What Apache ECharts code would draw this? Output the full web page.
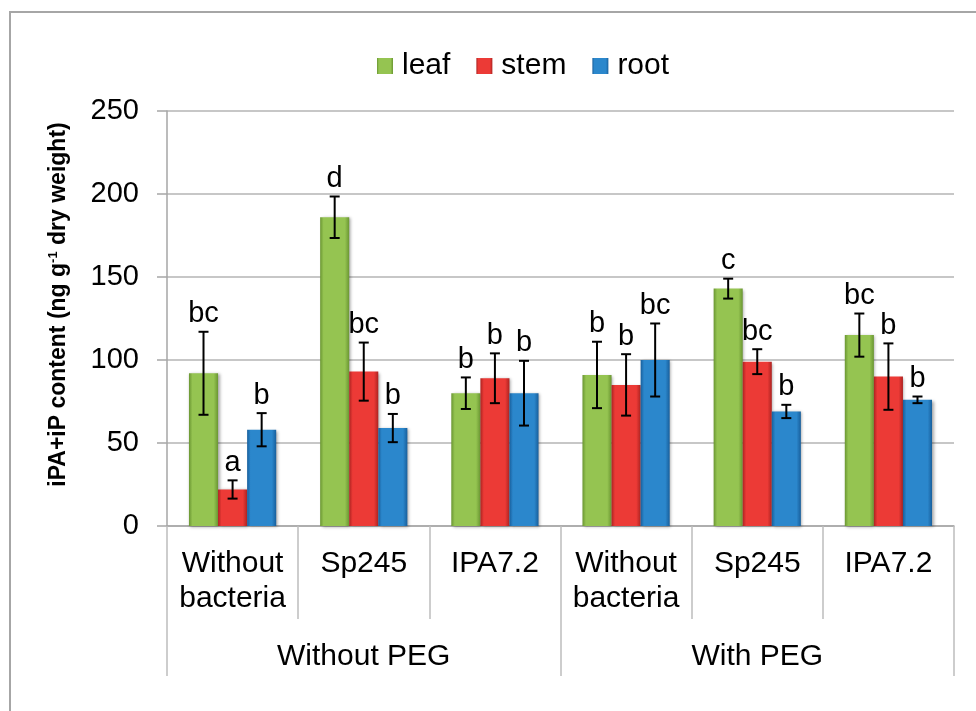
<!DOCTYPE html>
<html><head><meta charset="utf-8">
<script src="https://cdn.jsdelivr.net/npm/echarts@6/dist/echarts.min.js"></script>
<style>html,body{margin:0;padding:0;background:#fff}#c{width:976px;height:711px}</style>
</head><body><div id="c"></div>
<script>
const categories = ['Without\nbacteria','Sp245','IPA7.2','Without\nbacteria','Sp245','IPA7.2'];
const groups = ['Without PEG','With PEG'];
const seriesNames = ['leaf','stem','root'];
const leaf = [92, 186, 80, 91, 143, 115];
const leafErr = [25, 12.5, 9.5, 20, 6, 13];
const leafLetters = ['bc','d','b','b','c','bc'];
const stem = [22, 93, 89, 85, 99, 90];
const stemErr = [5.5, 17.5, 15, 18.5, 7.5, 20];
const stemLetters = ['a','bc','b','b','bc','b'];
const root = [58, 59, 80, 100, 69, 76];
const rootErr = [10, 8.5, 19.5, 22, 4, 2];
const rootLetters = ['b','b','b','bc','b','b'];
const yTicks = [0, 50, 100, 150, 200, 250];

const FONT = '"Liberation Sans", Arial, sans-serif';
const GAP = 0.335;
function grad(edge, mid) {
  return new echarts.graphic.LinearGradient(0, 0, 1, 0, [
    {offset: 0, color: edge}, {offset: 0.12, color: mid}, {offset: 0.85, color: mid}, {offset: 1, color: edge}
  ]);
}
const colors = [grad('#6a9632', '#95c451'), grad('#ad2321', '#ec3a36'), grad('#185f9c', '#2b87cc')];
const vals = [leaf, stem, root];
const errs = [leafErr, stemErr, rootErr];
const letters = [leafLetters, stemLetters, rootLetters];

const chart = echarts.init(document.getElementById('c'), null, {renderer: 'canvas'});
const series = [];
seriesNames.forEach((n, i) => {
  series.push({
    name: n, type: 'bar', xAxisIndex: 0, data: vals[i],
    barGap: '0%', barCategoryGap: (GAP * 100) + '%',
    itemStyle: {color: colors[i], shadowColor: 'rgba(0,0,0,0.35)', shadowBlur: 3, shadowOffsetX: 1.5, shadowOffsetY: 1}
  });
});
seriesNames.forEach((n, i) => {
  series.push({
    name: n + ' error', type: 'custom', xAxisIndex: 0, z: 10,
    data: vals[i].map((v, k) => [k, v, errs[i][k], letters[i][k]]),
    renderItem: function (params, api) {
      const k = api.value(0), v = api.value(1), e = api.value(2);
      const band = api.size([1, 0])[0];
      const bw = band * (1 - GAP) / 3;
      const cx = api.coord([k, v])[0] + (i - 1) * bw;
      const yt = api.coord([k, v + e])[1];
      const yb = api.coord([k, v - e])[1];
      const st = {stroke: '#000', lineWidth: 2};
      return {type: 'group', children: [
        {type: 'line', shape: {x1: cx, y1: yt, x2: cx, y2: yb}, style: st},
        {type: 'line', shape: {x1: cx - 5, y1: yt, x2: cx + 5, y2: yt}, style: st},
        {type: 'line', shape: {x1: cx - 5, y1: yb, x2: cx + 5, y2: yb}, style: st},
        {type: 'text', x: cx, y: yt - 3, style: {text: letters[i][k], fill: '#000', font: '29px ' + FONT, align: 'center', verticalAlign: 'bottom'}}
      ]};
    }
  });
});

chart.setOption({
  animation: false,
  backgroundColor: '#fff',
  textStyle: {fontFamily: FONT},
  graphic: [{type: 'rect', shape: {x: 10, y: 12, width: 1000, height: 720}, style: {fill: 'none', stroke: '#a6a6a6', lineWidth: 2}, silent: true}],
  legend: {
    data: seriesNames, top: 46, left: 372, icon: 'rect', itemWidth: 16, itemHeight: 16, itemGap: 26,
    textStyle: {fontSize: 30, color: '#000', fontFamily: FONT, padding: [0, 0, 0, 4]}
  },
  grid: {left: 167, right: 22, top: 111, bottom: 185, containLabel: false},
  xAxis: [
    {type: 'category', data: categories, position: 'bottom',
     axisLine: {lineStyle: {color: '#a6a6a6', width: 1.5}},
     axisTick: {show: true, length: 93, interval: 0, lineStyle: {color: '#bdbdbd', width: 1.5}},
     axisLabel: {interval: 0, fontSize: 30, lineHeight: 35, color: '#000', margin: 20, fontFamily: FONT}},
    {type: 'category', data: groups, position: 'bottom', gridIndex: 0,
     axisLine: {show: false},
     axisTick: {show: true, length: 150, interval: 0, lineStyle: {color: '#bdbdbd', width: 1.5}},
     axisLabel: {interval: 0, fontSize: 30, color: '#000', margin: 116, fontFamily: FONT}}
  ],
  yAxis: {
    type: 'value', min: yTicks[0], max: yTicks[yTicks.length - 1], interval: 50,
    name: 'iPA+iP content (ng g{sup|-1} dry weight)', nameLocation: 'middle', nameRotate: 90, nameGap: 97,
    nameTextStyle: {fontSize: 23, fontWeight: 'bold', color: '#000', fontFamily: FONT, padding: [0, 0, 0, 28],
      rich: {sup: {fontSize: 13, fontWeight: 'bold', verticalAlign: 'top', padding: [0, 0, 10, 0], fontFamily: FONT}}},
    axisLine: {show: true, lineStyle: {color: '#a6a6a6', width: 1.5}},
    axisTick: {show: true, length: 10, lineStyle: {color: '#a6a6a6', width: 1.5}},
    axisLabel: {fontSize: 29, color: '#000', margin: 28, fontFamily: FONT},
    splitLine: {lineStyle: {color: '#b4b4b4', width: 1.5}}
  },
  series: series
});
</script></body></html>
